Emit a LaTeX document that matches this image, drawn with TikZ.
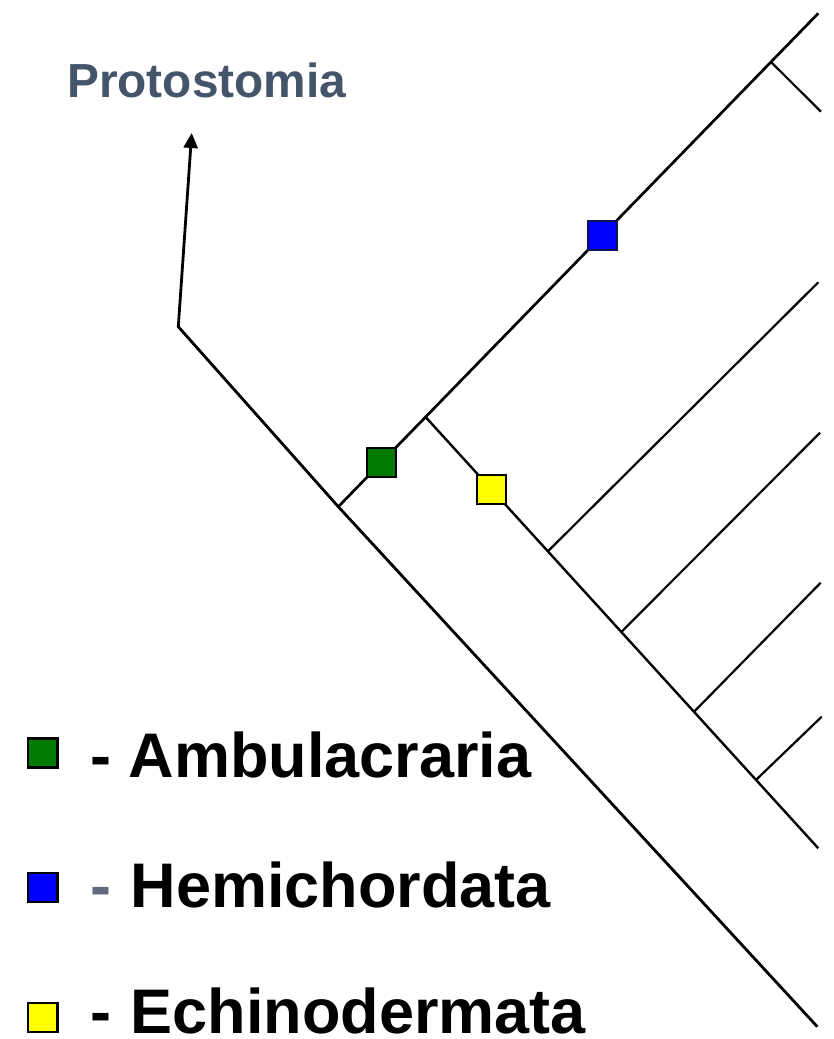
\documentclass[tikz,border=0pt]{standalone}
\usepackage{fontspec}
\setmainfont{Liberation Sans}
\usetikzlibrary{arrows.meta,calc}
\definecolor{protoblue}{HTML}{44546A}
\definecolor{dashgray}{HTML}{5F6B7D}
\definecolor{sqgreen}{HTML}{007B00}
\definecolor{sqblue}{HTML}{0000FF}
\definecolor{sqyellow}{HTML}{FFFF00}
\definecolor{navyedge}{HTML}{10105A}
\begin{document}
\begin{tikzpicture}[x=1pt,y=-1pt,
  trunk/.style={line width=2.8pt, line join=miter, draw=black},
  upperline/.style={line width=2.7pt, draw=black},
  lowerline/.style={line width=2.4pt, draw=black},
  twig/.style={line width=2.2pt, draw=black},
  marksq/.style={draw, line width=2pt, minimum width=29pt, minimum height=29pt, inner sep=0pt},
  legsq/.style={draw=black, line width=2.4pt, minimum width=29.5pt, minimum height=28.8pt, inner sep=0pt},
  legtext/.style={anchor=base west, inner sep=0pt, font=\fontsize{63}{70}\selectfont\bfseries},
  prototext/.style={anchor=base west, inner sep=0pt, text=protoblue, font=\fontsize{47.8}{52}\selectfont\bfseries}
]
\useasboundingbox (0,0) rectangle (834,1039);
\fill[white] (0,0) rectangle (834,1039);

% tree coordinates
\coordinate (root) at (178.3,326.7);
\coordinate (tip) at (191.7,133);
\coordinate (j1) at (338.3,506.7);
\coordinate (mainend) at (817.3,1026.7);
\coordinate (uptop) at (818.3,13.3);
\coordinate (j2) at (425.5,416.9);
\coordinate (lowend) at (818.3,848.3);
\coordinate (jt) at (771,62);
\coordinate (tend) at (821,111.7);
\coordinate (b1s) at (547.9,551.3);
\coordinate (b1e) at (818.3,282.3);
\coordinate (b2s) at (621.3,632.0);
\coordinate (b2e) at (820,432.7);
\coordinate (b3s) at (694,711.8);
\coordinate (b3e) at (820.7,582.7);
\coordinate (b4s) at (756,779.9);
\coordinate (b4e) at (821.7,716.7);

% lines
\draw[trunk, {Triangle[length=15pt,width=14pt]}-] (tip) -- (root) -- (j1) -- (mainend);
\draw[upperline] (j1) -- (uptop);
\draw[twig] (jt) -- (tend);
\draw[lowerline] (j2) -- (lowend);
\draw[twig] (b1s) -- (b1e);
\draw[twig] (b2s) -- (b2e);
\draw[twig] (b3s) -- (b3e);
\draw[twig] (b4s) -- (b4e);

% markers on tree
\node[marksq, draw=black, fill=sqgreen] (ambmark) at ($(j1)!0.0904!(uptop)$) {};
\node[marksq, draw=navyedge, fill=sqblue] (hemimark) at ($(j1)!0.550!(uptop)$) {};
\node[marksq, draw=black, fill=sqyellow] (echimark) at ($(j2)!0.1673!(lowend)$) {};

% label
\node[prototext] (proto) at (67,97.7) {Protostomia};

% legend
\node[legsq, fill=sqgreen] (legamb) at (42.85,753) {};
\node[legsq, fill=sqblue] (leghemi) at (42.85,887.5) {};
\node[legsq, fill=sqyellow] (legechi) at (42.85,1017.5) {};

\node[legtext] (dashamb) at (90.5,777) {-};
\node[legtext, text=dashgray] (dashhemi) at (90.5,907.3) {-};
\node[legtext] (dashechi) at (90.5,1033.3) {-};

\node[legtext] (txtamb) at (128.5,777) {Ambulacraria};
\node[legtext] (txthemi) at (130.5,907.3) {Hemichordata};
\node[legtext] (txtechi) at (130.5,1033.3) {Echinodermata};
\end{tikzpicture}
\end{document}
